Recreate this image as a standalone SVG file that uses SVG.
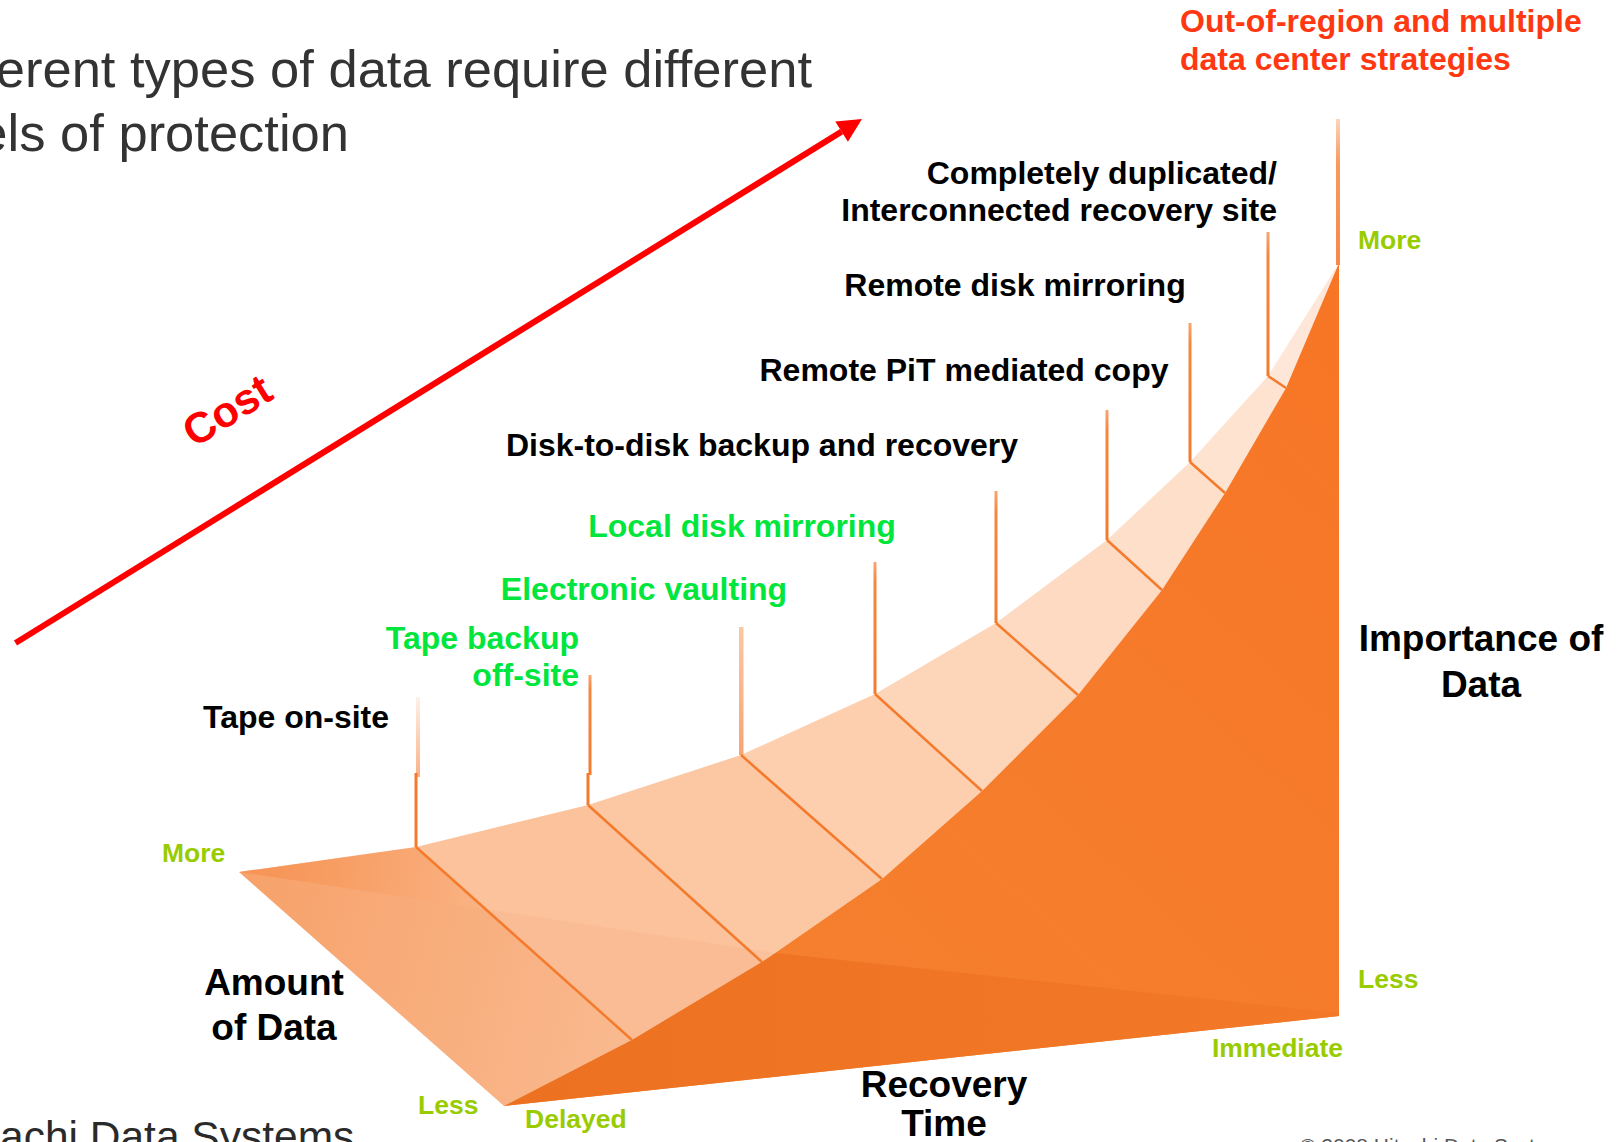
<svg xmlns="http://www.w3.org/2000/svg" width="1618" height="1142" viewBox="0 0 1618 1142">
  <defs>
    <style>
      .sans{font-family:"Liberation Sans",Arial,Helvetica,sans-serif}
      .title{font-size:52.5px;fill:#333333}
      .lbl{font-size:32px;font-weight:bold}
      .blk{fill:#000000}
      .grn{fill:#00e63c}
      .red{fill:#ff3812}
      .axis{font-size:37px;font-weight:bold;fill:#000000}
      .tick{font-size:26.5px;font-weight:bold;fill:#99cc00}
      .diag{stroke:#f47a2c;stroke-width:2.5;fill:none;stroke-linejoin:round}
      .post{fill:url(#postFade)}
      .foot{fill:#2a2a2a}
    </style>
    <linearGradient id="postFade" x1="0" y1="0" x2="0" y2="1">
      <stop offset="0" stop-color="#f8a672"/>
      <stop offset="0.15" stop-color="#f5873f"/>
      <stop offset="1" stop-color="#f47b2e"/>
    </linearGradient>
    <linearGradient id="postLight" x1="0" y1="0" x2="0" y2="1">
      <stop offset="0" stop-color="#fbc7a4"/>
      <stop offset="1" stop-color="#f8a470"/>
    </linearGradient>
    <linearGradient id="postFaint" x1="0" y1="0" x2="0" y2="1">
      <stop offset="0" stop-color="#fef1e8"/>
      <stop offset="1" stop-color="#f8b287"/>
    </linearGradient>
    <linearGradient id="edgePost" x1="0" y1="0" x2="0" y2="1">
      <stop offset="0" stop-color="#fcd5bb"/>
      <stop offset="0.3" stop-color="#f79a5f"/>
      <stop offset="1" stop-color="#f6894a"/>
    </linearGradient>
    <linearGradient id="floor" gradientUnits="userSpaceOnUse" x1="239" y1="900" x2="632" y2="1000">
      <stop offset="0" stop-color="#f9a56e"/>
      <stop offset="1" stop-color="#fbbe95"/>
    </linearGradient>
    <linearGradient id="wedge" gradientUnits="userSpaceOnUse" x1="239" y1="872" x2="485" y2="880">
      <stop offset="0" stop-color="#f48a47" stop-opacity="0.65"/>
      <stop offset="1" stop-color="#f48a47" stop-opacity="0"/>
    </linearGradient>
    <linearGradient id="dark" gradientUnits="userSpaceOnUse" x1="650" y1="1040" x2="1339" y2="300">
      <stop offset="0" stop-color="#f4812f"/>
      <stop offset="1" stop-color="#f77626"/>
    </linearGradient>
    <linearGradient id="darkLow" gradientUnits="userSpaceOnUse" x1="504" y1="1060" x2="1339" y2="1010">
      <stop offset="0" stop-color="#ec7121"/>
      <stop offset="1" stop-color="#f37827"/>
    </linearGradient>
    <marker id="head" markerUnits="userSpaceOnUse" markerWidth="26" markerHeight="26" refX="0" refY="12" orient="auto" overflow="visible">
      <path d="M0,0 L24,12 L0,24 z" fill="#ff0000"/>
    </marker>
  </defs>

  <rect width="1618" height="1142" fill="#ffffff"/>

  <!-- heading, clipped at the left page edge -->
  <g id="heading" class="sans title">
    <text x="812" y="87" text-anchor="end">erent types of data require different</text>
    <text x="349" y="151" text-anchor="end">els of protection</text>
  </g>

  <!-- light sheet: floor plus the rising band, faceted between the levels -->
  <g id="sheet">
    <polygon points="239,872 416,847 632,1040 504,1106" fill="url(#floor)"/>
    <polygon points="239,872 416,847 485,909" fill="url(#wedge)"/>
    <polygon points="416,847 588,805 762,962 632,1040" fill="#fcc29c"/>
    <polygon points="588,805 741,755 882,879 762,962" fill="#fcc8a4"/>
    <polygon points="741,755 875,694 982,791 882,879" fill="#fdcfae"/>
    <polygon points="875,694 996,623 1078,695 982,791" fill="#fdd5b8"/>
    <polygon points="996,623 1107,540 1162,590 1078,695" fill="#fddac1"/>
    <polygon points="1107,540 1190,462 1225,493 1162,590" fill="#fddfca"/>
    <polygon points="1190,462 1268,376 1286,388 1225,493" fill="#fee3d1"/>
    <polygon points="1268,376 1339,263 1286,388" fill="#fee7d8"/>
    <!-- floor below the fold line -->
    <polygon points="239,872 776,953 762,962 632,1040 504,1106" fill="#e8803c" fill-opacity="0.08"/>
  </g>

  <!-- dark importance surface -->
  <g id="surface">
    <polygon points="504,1106 632,1040 762,962 882,879 982,791 1078,695 1162,590 1225,493 1286,388 1339,263 1339,1016" fill="url(#dark)"/>
    <polygon points="504,1106 632,1040 762,962 776,953 1339,1013 1339,1016" fill="url(#darkLow)"/>
  </g>

  <!-- protection levels: post, fold line and caption -->
  <g id="level-tape-onsite">
    <rect x="416" y="697" width="4" height="80" fill="url(#postFaint)"/>
    <rect x="414.5" y="773" width="3" height="74" fill="#f47b2e"/>
    <path class="diag" d="M416,847 L632,1040"/>
    <text class="sans lbl blk" x="296" y="728" text-anchor="middle">Tape on-site</text>
  </g>
  <g id="level-tape-offsite">
    <rect x="588.5" y="675" width="3" height="100" class="post"/>
    <rect x="586.5" y="773" width="3" height="32" fill="#f47b2e"/>
    <path class="diag" d="M588,805 L762,962"/>
    <text class="sans lbl grn" text-anchor="end"><tspan x="579" y="649">Tape backup</tspan><tspan x="579" y="686">off-site</tspan></text>
  </g>
  <g id="level-vaulting">
    <rect x="739" y="627" width="4.5" height="128" fill="url(#postLight)"/>
    <path class="diag" d="M741,755 L882,879"/>
    <text class="sans lbl grn" x="644" y="600" text-anchor="middle">Electronic vaulting</text>
  </g>
  <g id="level-local-mirror">
    <rect x="873.5" y="562" width="3" height="132" class="post"/>
    <path class="diag" d="M875,694 L982,791"/>
    <text class="sans lbl grn" x="742" y="537" text-anchor="middle">Local disk mirroring</text>
  </g>
  <g id="level-disk-to-disk">
    <rect x="994.5" y="491" width="3" height="132" class="post"/>
    <path class="diag" d="M996,623 L1078,695"/>
    <text class="sans lbl blk" x="762" y="456" text-anchor="middle">Disk-to-disk backup and recovery</text>
  </g>
  <g id="level-remote-pit">
    <rect x="1105.5" y="410" width="3" height="130" class="post"/>
    <path class="diag" d="M1107,540 L1162,590"/>
    <text class="sans lbl blk" x="964" y="381" text-anchor="middle">Remote PiT mediated copy</text>
  </g>
  <g id="level-remote-mirror">
    <rect x="1188.5" y="323" width="3" height="139" class="post"/>
    <path class="diag" d="M1190,462 L1225,493"/>
    <text class="sans lbl blk" x="1015" y="296" text-anchor="middle">Remote disk mirroring</text>
  </g>
  <g id="level-duplicated-site">
    <rect x="1266.5" y="232" width="3" height="144" class="post"/>
    <path class="diag" d="M1268,376 L1286,388"/>
    <text class="sans lbl blk" text-anchor="end"><tspan x="1277" y="184">Completely duplicated/</tspan><tspan x="1277" y="221">Interconnected recovery site</tspan></text>
  </g>
  <g id="level-out-of-region">
    <rect x="1336" y="119" width="4" height="146" fill="url(#edgePost)"/>
    <text class="sans lbl red"><tspan x="1180" y="32">Out-of-region and multiple</tspan><tspan x="1180" y="70">data center strategies</tspan></text>
  </g>

  <!-- axis captions -->
  <g id="axis-importance" class="sans">
    <text class="axis" text-anchor="middle"><tspan x="1481" y="651">Importance of</tspan><tspan x="1481" y="697">Data</tspan></text>
    <text class="tick" x="1358" y="249">More</text>
    <text class="tick" x="1358" y="988">Less</text>
  </g>
  <g id="axis-amount" class="sans">
    <text class="axis" text-anchor="middle"><tspan x="274" y="995">Amount</tspan><tspan x="274" y="1040">of Data</tspan></text>
    <text class="tick" x="162" y="862">More</text>
    <text class="tick" x="418" y="1114">Less</text>
  </g>
  <g id="axis-recovery" class="sans">
    <text class="axis" text-anchor="middle"><tspan x="944" y="1097">Recovery</tspan><tspan x="944" y="1136">Time</tspan></text>
    <text class="tick" x="525" y="1128">Delayed</text>
    <text class="tick" x="1343" y="1057" text-anchor="end">Immediate</text>
  </g>

  <!-- cost arrow -->
  <g id="connectors">
    <path d="M15.5,643 L841.6,131.6" stroke="#ff0000" stroke-width="6" fill="none" marker-end="url(#head)"/>
  </g>
  <g id="cost-label">
    <text class="sans" transform="translate(235,423) rotate(-32)" text-anchor="middle" font-size="43" font-weight="bold" fill="#ff0000">Cost</text>
  </g>

  <!-- page footer, cut by the bottom edge -->
  <g id="footer" class="sans">
    <text class="foot" x="0" y="1151" font-size="42.5">achi Data Systems</text>
    <text x="1300" y="1153" font-size="21" fill="#555555">© 2008 Hitachi Data Systems</text>
  </g>
</svg>
